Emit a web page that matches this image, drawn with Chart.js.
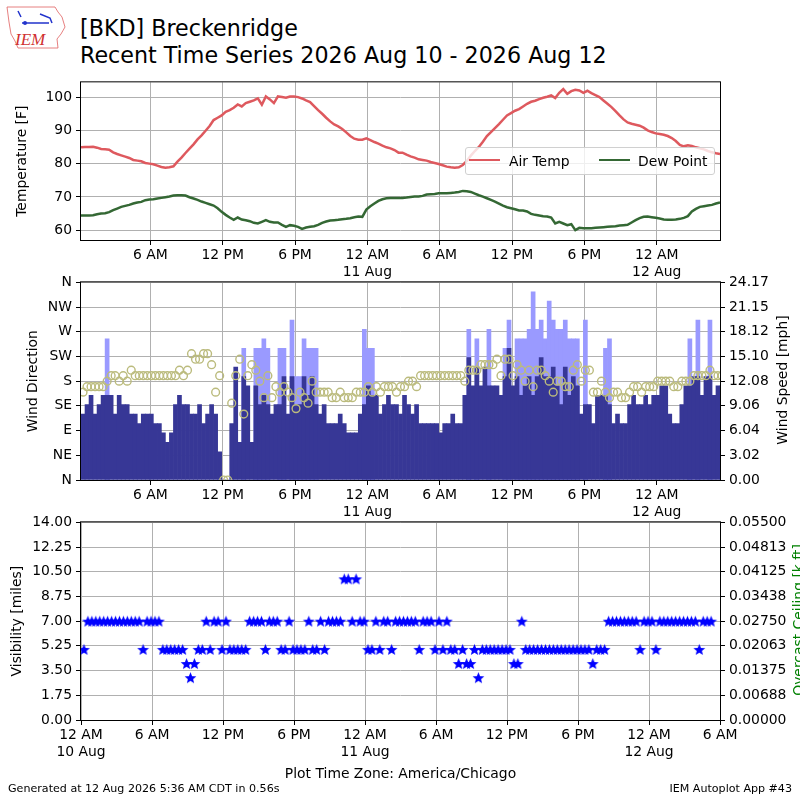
<!DOCTYPE html>
<html>
<head>
<meta charset="utf-8">
<script src="https://cdn.jsdelivr.net/npm/chart.js@4.4.1/dist/chart.umd.min.js"></script>
<style>
body { margin: 0; background: #fff; font-family: 'DejaVu Sans', sans-serif; }
#wrap { position: relative; width: 800px; height: 800px; overflow: hidden; background: #fff; }
canvas { position: absolute; left: 0; }
.txt { position: absolute; white-space: nowrap; color: #000; }
.rot { position: absolute; white-space: nowrap; transform: translate(-50%, -50%) rotate(-90deg); font-size: 13.9px; line-height: 16px; }
</style>
</head>
<body>
<div id="wrap">
  <svg style="position:absolute;left:0;top:0" width="70" height="55" viewBox="0 0 70 55">
    <path d="M7 7 L55 7 L58 12 L62 17 L65 27 L61 34 L57 39 L58 48 L18 48 L15 41 L11 34 L9 22 Z" fill="none" stroke="#e06060" stroke-width="0.8"/>
    <path d="M18 11 L21 17 M22 23 L49 23 M40 14 L50 18 L52 23" stroke="#2233cc" stroke-width="1.5" fill="none"/>
    <circle cx="25" cy="23" r="2" fill="#2233cc"/>
    <text x="15" y="45" font-family="Liberation Serif" font-style="italic" font-size="17" fill="#d03030">IEM</text>
  </svg>
  <div class="txt" style="left:80px;top:15px;font-size:22.2px;line-height:27px">[BKD] Breckenridge<br>Recent Time Series 2026 Aug 10 - 2026 Aug 12</div>

  <canvas id="cTemp" width="800" height="215" style="top:70px"></canvas>
  <canvas id="cWind" width="800" height="255" style="top:270px"></canvas>
  <canvas id="cVis" width="800" height="290" style="top:510px"></canvas>

  <div id="legend" style="position:absolute;left:465px;top:147px;width:248px;height:26px;border:1px solid #d0d0d0;border-radius:3px;background:rgba(255,255,255,0.8);font-size:13.9px;line-height:16px;">
    <div style="position:absolute;left:3px;top:10.5px;width:31px;height:2.5px;background:rgb(222,89,94)"></div>
    <div style="position:absolute;left:43px;top:5px">Air Temp</div>
    <div style="position:absolute;left:133px;top:10.5px;width:31px;height:2.5px;background:rgb(52,104,52)"></div>
    <div style="position:absolute;left:172px;top:5px">Dew Point</div>
  </div>

  <div class="rot" style="left:782px;top:380px">Wind Speed [mph]</div>
  <div class="rot" style="left:798px;top:620px;color:#008000">Overcast Ceiling [k ft]</div>

  <div class="txt" style="left:8px;top:782px;font-size:11.1px;line-height:13px">Generated at 12 Aug 2026 5:36 AM CDT in 0.56s</div>
  <div class="txt" style="right:8px;top:782px;font-size:11.1px;line-height:13px">IEM Autoplot App #43</div>
</div>

<script>
// observations every 20 minutes, hours since 10 Aug 00:00
var obsStart = 0.25;
var obsStep = 1 / 3;

var airTempF = [
  84.9, 85.0, 85.0, 85.1, 84.8, 84.4, 84.3, 84.2, 83.4, 82.9,
  82.5, 82.1, 81.7, 81.1, 80.9, 80.7, 80.2, 80.0, 79.8, 79.4,
  79.0, 78.8, 78.9, 79.2, 80.6, 81.8, 83.2, 84.5, 85.8, 87.3,
  88.5, 89.9, 91.3, 93.1, 93.8, 94.5, 95.6, 96.1, 96.8, 97.8,
  97.2, 98.2, 98.6, 99.0, 99.6, 97.7, 100.2, 99.3, 98.2, 100.2,
  100.0, 99.8, 100.2, 100.2, 100.0, 99.6, 99.0, 98.5, 97.3, 96.1,
  95.0, 93.8, 92.7, 91.8, 91.2, 90.4, 89.4, 88.3, 87.5, 87.2,
  87.2, 87.6, 87.1, 86.5, 86.0, 85.4, 84.9, 84.6, 84.1, 83.3,
  83.3, 82.7, 82.2, 81.8, 81.3, 81.1, 80.9, 80.5, 80.2, 79.9,
  79.5, 79.1, 78.9, 78.8, 78.9, 79.6, 80.8, 82.4, 83.8, 85.0,
  86.6, 88.3, 89.5, 90.7, 91.9, 93.2, 94.5, 95.2, 95.9, 96.4,
  97.2, 98.0, 98.6, 98.9, 99.4, 99.8, 100.1, 100.5, 99.7, 101.3,
  102.4, 101.0, 101.8, 102.2, 102.0, 101.3, 101.9, 101.2, 100.6, 100.0,
  99.0, 98.0, 97.0, 95.8, 94.5, 93.3, 92.4, 92.0, 91.7, 91.4,
  90.8, 90.0, 89.5, 89.1, 88.9, 88.7, 88.3, 87.7, 86.8, 85.6,
  85.2, 85.5, 85.3, 84.9, 84.6, 84.3, 83.8, 83.4, 83.1, 82.9
];

var dewPointF = [
  64.4, 64.4, 64.4, 64.5, 64.8, 65.0, 65.1, 65.4, 66.0, 66.5,
  67.0, 67.3, 67.6, 68.0, 68.3, 68.5, 69.0, 69.2, 69.3, 69.5,
  69.7, 69.9, 70.1, 70.4, 70.5, 70.5, 70.4, 69.9, 69.5, 69.1,
  68.6, 68.2, 67.8, 67.4, 66.6, 65.5, 64.6, 63.8, 63.1, 63.8,
  63.2, 63.0, 62.7, 62.2, 62.0, 62.5, 63.0, 62.5, 62.3, 62.3,
  61.6, 61.0, 61.5, 61.3, 61.0, 60.4, 60.8, 61.0, 61.2, 61.6,
  62.2, 62.6, 62.9, 63.0, 63.1, 63.3, 63.4, 63.6, 63.9, 64.1,
  64.0, 66.2, 67.2, 68.0, 68.8, 69.3, 69.6, 69.7, 69.7, 69.7,
  69.7, 69.8, 70.0, 70.1, 70.1, 70.3, 70.7, 70.8, 70.9, 71.1,
  71.1, 71.1, 71.2, 71.3, 71.5, 71.8, 71.7, 71.5, 71.0, 70.5,
  70.1, 69.6, 69.1, 68.6, 68.0, 67.4, 66.9, 66.6, 66.3, 65.9,
  65.9, 65.6, 64.9, 64.6, 64.4, 64.2, 64.1, 63.8, 62.0, 62.5,
  62.0, 61.5, 61.8, 60.0, 60.7, 60.6, 60.6, 60.6, 60.7, 60.8,
  60.9, 61.0, 61.1, 61.2, 61.4, 61.5, 61.6, 62.3, 63.0, 63.6,
  64.0, 64.1, 63.9, 63.7, 63.5, 63.2, 63.1, 63.1, 63.2, 63.4,
  63.7, 64.2, 65.6, 66.4, 67.0, 67.2, 67.4, 67.6, 68.0, 68.3
];

var windDirDeg = [
  160, 170, 170, 170, 170, 170, 180, 190, 190, 180,
  190, 180, 200, 190, 190, 190, 190, 190, 190, 190,
  190, 190, 190, 190, 200, 190, 200, 230, 220, 220,
  230, 230, 210, 160, 190, 0, 0, 140, 190, 220,
  120, 190, 210, 200, 180, 150, 190, 150, 170, 160,
  170, 160, 150, 130, 160, 150, 140, 180, 160, 160,
  160, 160, 150, 150, 160, 150, 150, 150, 160, 160,
  160, 170, 160, 170, 160, 170, 170, 170, 160, 170,
  170, 180, 180, 170, 190, 190, 190, 190, 190, 190,
  190, 190, 190, 190, 190, 180, 200, 200, 200, 210,
  210, 210, 210, 220, 190, 220, 220, 190, 210, 200,
  180, 200, 170, 200, 200, 190, 180, 160, 180, 180,
  170, 170, 200, 210, 180, 200, 200, 160, 160, 180,
  160, 150, 160, 160, 150, 150, 160, 170, 170, 160,
  170, 170, 170, 180, 180, 180, 180, 170, 170, 180,
  180, 180, 190, 190, 190, 190, 200, 190, 190, 190
];

// speeds and gusts as reported, in knots
var windSpeedKt = [
  7, 8, 9, 7, 8, 9, 9, 9, 7, 9,
  8, 8, 7, 7, 6, 7, 7, 7, 6, 6,
  5, 4, 5, 8, 9, 8, 8, 7, 7, 8,
  6, 7, 8, 7, 3, 0, 0, 6, 12, 4,
  11, 10, 4, 10, 8, 9, 8, 7, 8, 8,
  11, 7, 11, 8, 8, 11, 9, 11, 8, 7,
  8, 6, 6, 6, 7, 6, 5, 5, 5, 7,
  8, 10, 9, 9, 7, 8, 9, 8, 8, 7,
  9, 8, 7, 8, 6, 6, 6, 6, 6, 5,
  6, 6, 7, 6, 6, 9, 13, 10, 12, 10,
  12, 10, 10, 10, 9, 11, 14, 10, 11, 9,
  10, 11, 9, 11, 13, 11, 11, 12, 10, 8,
  12, 9, 11, 10, 7, 8, 8, 6, 9, 9,
  9, 8, 6, 7, 6, 6, 8, 9, 8, 8,
  9, 8, 9, 9, 10, 10, 7, 6, 6, 8,
  10, 10, 11, 11, 9, 11, 11, 9, 10, 10
];

var windGustKt = [
  null, null, null, null, null, null, 15, null, null, null,
  null, null, null, null, null, null, null, null, null, null,
  null, null, null, null, null, null, null, null, null, null,
  null, null, null, null, null, null, null, null, null, null,
  14, null, null, 14, 14, 15, 14, null, null, 14,
  14, null, 17, 11, 11, 15, 14, 14, 14, null,
  null, null, null, null, null, null, null, null, null, null,
  16, 14, 14, null, null, null, null, null, null, null,
  null, null, null, null, null, null, null, null, null, null,
  null, null, null, null, null, null, 16, null, 15, null,
  null, 16, null, null, null, 14, 17, null, 15, 15,
  15, 16, 20, 16, 17, 15, 19, 17, 16, 16,
  17, 15, 15, 15, null, 17, null, null, null, null,
  14, 15, null, null, null, null, null, null, null, null,
  null, null, null, null, null, null, null, null, null, null,
  null, 15, null, 17, null, null, 17, null, null, null
];

var visibilityMi = [
  5, 7, 7, 7, 7, 7, 7, 7, 7, 7,
  7, 7, 7, 7, 7, 5, 7, 7, 7, 7,
  5, 5, 5, 5, 5, 5, 4, 3, 4, 5,
  5, 7, 5, 7, 7, 5, 7, 5, 5, 5,
  5, 5, 7, 7, 7, 7, 5, 7, 7, 7,
  5, 5, 7, 5, 5, 5, 5, 7, 5, 5,
  7, 5, 7, 7, 7, 7, 10, 10, 7, 10,
  7, 7, 5, 5, 7, 5, 7, 7, 5, 7,
  7, 7, 7, 7, 7, 5, 7, 7, 7, 5,
  7, 5, 7, 5, 5, 4, 5, 4, 4, 5,
  3, 5, 5, 5, 5, 5, 5, 5, 5, 4,
  4, 7, 5, 5, 5, 5, 5, 5, 5, 5,
  5, 5, 5, 5, 5, 5, 5, 5, 5, 4,
  5, 5, 5, 7, 7, 7, 7, 7, 7, 7,
  7, 5, 7, 7, 7, 5, 7, 7, 7, 7,
  7, 7, 7, 7, 7, 7, 5, 7, 7, 7
];

var tempTicks = [60, 70, 80, 90, 100];
var dirTickLabels = ['N', 'NE', 'E', 'SE', 'S', 'SW', 'W', 'NW', 'N'];
var speedTickLabels = ['0.00', '3.02', '6.04', '9.06', '12.08', '15.10', '18.12', '21.15', '24.17'];
var visTickLabels = ['0.00', '1.75', '3.50', '5.25', '7.00', '8.75', '10.50', '12.25', '14.00'];
var ceilTickLabels = ['0.00000', '0.00688', '0.01375', '0.02063', '0.02750', '0.03438', '0.04125', '0.04813', '0.05500'];
var timeTickHours = [0, 6, 12, 18, 24, 30, 36, 42, 48, 54];
var timeTickLabels = [['12 AM', '10 Aug'], '6 AM', '12 PM', '6 PM', ['12 AM', '11 Aug'], '6 AM', '12 PM', '6 PM', ['12 AM', '12 Aug'], '6 AM'];

var GRID = '#b0b0b0';
var AIR = 'rgb(222,89,94)';
var DEW = 'rgb(52,104,52)';
var SPEED = '#373796';
var GUST = '#9a9aff';
var CIRCLE = 'rgb(187,187,125)';

var obsHours = airTempF.map(function (v, i) { return obsStart + i * obsStep; });
// bars span their 20 minute interval
var barHours = obsHours.map(function (h) { return h + obsStep / 2; });

function pairs(xs, ys) {
  return xs.map(function (x, i) { return { x: x, y: ys[i] }; });
}

Chart.defaults.font.family = "'DejaVu Sans', sans-serif";
Chart.defaults.font.size = 13.9;
Chart.defaults.color = '#000';
Chart.defaults.animation = false;
Chart.defaults.plugins.legend.display = false;
Chart.defaults.plugins.tooltip.enabled = false;

var frame = {
  id: 'frame',
  afterDraw: function (chart) {
    var a = chart.chartArea, g = chart.ctx;
    g.save();
    g.strokeStyle = '#000';
    g.lineWidth = 1;
    g.strokeRect(a.left - 0.5, a.top - 0.5, a.right - a.left + 1, a.bottom - a.top + 1);
    g.restore();
  }
};

function timeAxis(min, max, height, title) {
  return {
    type: 'linear', min: min, max: max, offset: false,
    afterFit: function (s) { s.height = height; },
    afterBuildTicks: function (s) {
      s.ticks = timeTickHours.filter(function (h) { return h >= min && h <= max; })
        .map(function (h) { return { value: h }; });
    },
    grid: { color: GRID, tickColor: '#000', tickLength: 5, offset: false },
    border: { display: false },
    ticks: {
      autoSkip: false, maxRotation: 0, padding: 2.5,
      callback: function (v) { return timeTickLabels[timeTickHours.indexOf(v)]; }
    },
    title: title || { display: false }
  };
}

function valueAxis(pos, min, max, tickValues, tickLabels, extra) {
  var ax = {
    type: 'linear', position: pos, min: min, max: max,
    afterFit: function (s) { s.width = pos === 'left' ? 81 : 80; },
    afterBuildTicks: function (s) { s.ticks = tickValues.map(function (v) { return { value: v }; }); },
    grid: { color: GRID, tickColor: '#000', tickLength: 5, drawOnChartArea: pos === 'left' },
    border: { display: false },
    ticks: { padding: 4, autoSkip: false, callback: function (v, k) { return tickLabels[k]; } }
  };
  return Object.assign(ax, extra || {});
}

function starMarker(size, color) {
  var c = document.createElement('canvas');
  c.width = size; c.height = size;
  var g = c.getContext('2d');
  var r = size / 2, ri = r * 0.42;
  g.beginPath();
  for (var k = 0; k < 10; k++) {
    var rad = k % 2 ? ri : r - 0.3;
    var ang = -Math.PI / 2 + k * Math.PI / 5;
    g.lineTo(r + rad * Math.cos(ang), r + 0.6 + rad * Math.sin(ang));
  }
  g.closePath();
  g.fillStyle = color;
  g.fill();
  return c;
}

// temperature panel
new Chart(document.getElementById('cTemp'), {
  type: 'line',
  data: {
    datasets: [
      { label: 'Air Temp', data: pairs(obsHours, airTempF), borderColor: AIR, borderWidth: 2.5, pointRadius: 0 },
      { label: 'Dew Point', data: pairs(obsHours, dewPointF), borderColor: DEW, borderWidth: 2.5, pointRadius: 0 }
    ]
  },
  options: {
    responsive: false,
    layout: { padding: { top: 10, right: 80, left: 0, bottom: 0 } },
    scales: {
      x: timeAxis(0.25, 53.25, 45),
      y: valueAxis('left', 57.04, 104.44, tempTicks, tempTicks.map(String), {
        title: { display: true, text: 'Temperature [F]', padding: { top: 13.7, bottom: 0 } }
      })
    }
  },
  plugins: [frame]
});

// wind panel
var windX = timeAxis(0.25, 53.25, 45);
windX.z = 1;
var dirAxis = valueAxis('left', 0, 360, dirTickLabels.map(function (l, k) { return k * 45; }), dirTickLabels, {
  title: { display: true, text: 'Wind Direction', padding: { top: 24.7, bottom: 0 } }
});
dirAxis.z = 1;

new Chart(document.getElementById('cWind'), {
  type: 'bar',
  data: {
    datasets: [
      {
        type: 'line', label: 'Wind Direction', data: pairs(barHours, windDirDeg), yAxisID: 'yDir',
        showLine: false, pointRadius: 3.9, pointBorderWidth: 1.4, pointBorderColor: CIRCLE,
        pointBackgroundColor: 'rgba(0,0,0,0)', borderColor: CIRCLE, order: 0, clip: 0
      },
      {
        label: 'Wind Speed', data: pairs(barHours, windSpeedKt), yAxisID: 'ySpd', backgroundColor: SPEED,
        grouped: false, barPercentage: 1, categoryPercentage: 1, borderWidth: 0, order: 1, clip: 0
      },
      {
        label: 'Wind Gust', data: pairs(barHours, windGustKt), yAxisID: 'ySpd', backgroundColor: GUST,
        grouped: false, barPercentage: 1, categoryPercentage: 1, borderWidth: 0, order: 2, clip: 0
      }
    ]
  },
  options: {
    responsive: false,
    layout: { padding: { top: 10, right: 0, left: 0, bottom: 0 } },
    scales: {
      x: windX,
      yDir: dirAxis,
      ySpd: valueAxis('right', 0, 21, speedTickLabels.map(function (l, k) { return k * 21 / 8; }), speedTickLabels)
    }
  },
  plugins: [frame]
});

// visibility panel
var star = starMarker(13, '#0000ff');
new Chart(document.getElementById('cVis'), {
  type: 'scatter',
  data: {
    datasets: [
      { label: 'Visibility', data: pairs(obsHours, visibilityMi), yAxisID: 'yVis', pointStyle: star, pointRadius: 6 }
    ]
  },
  options: {
    responsive: false,
    layout: { padding: { top: 10, right: 0, left: 0, bottom: 0 } },
    scales: {
      x: timeAxis(0, 54, 80, { display: true, text: 'Plot Time Zone: America/Chicago', padding: { top: 0, bottom: 17.7 } }),
      yVis: valueAxis('left', 0, 14, visTickLabels.map(function (l, k) { return k * 1.75; }), visTickLabels, {
        title: { display: true, text: 'Visibility [miles]', padding: { top: 9.2, bottom: 0 } }
      }),
      yCeil: valueAxis('right', 0, 0.055, ceilTickLabels.map(function (l, k) { return k * 0.006875; }), ceilTickLabels)
    }
  },
  plugins: [frame]
});
</script>
</body>
</html>
